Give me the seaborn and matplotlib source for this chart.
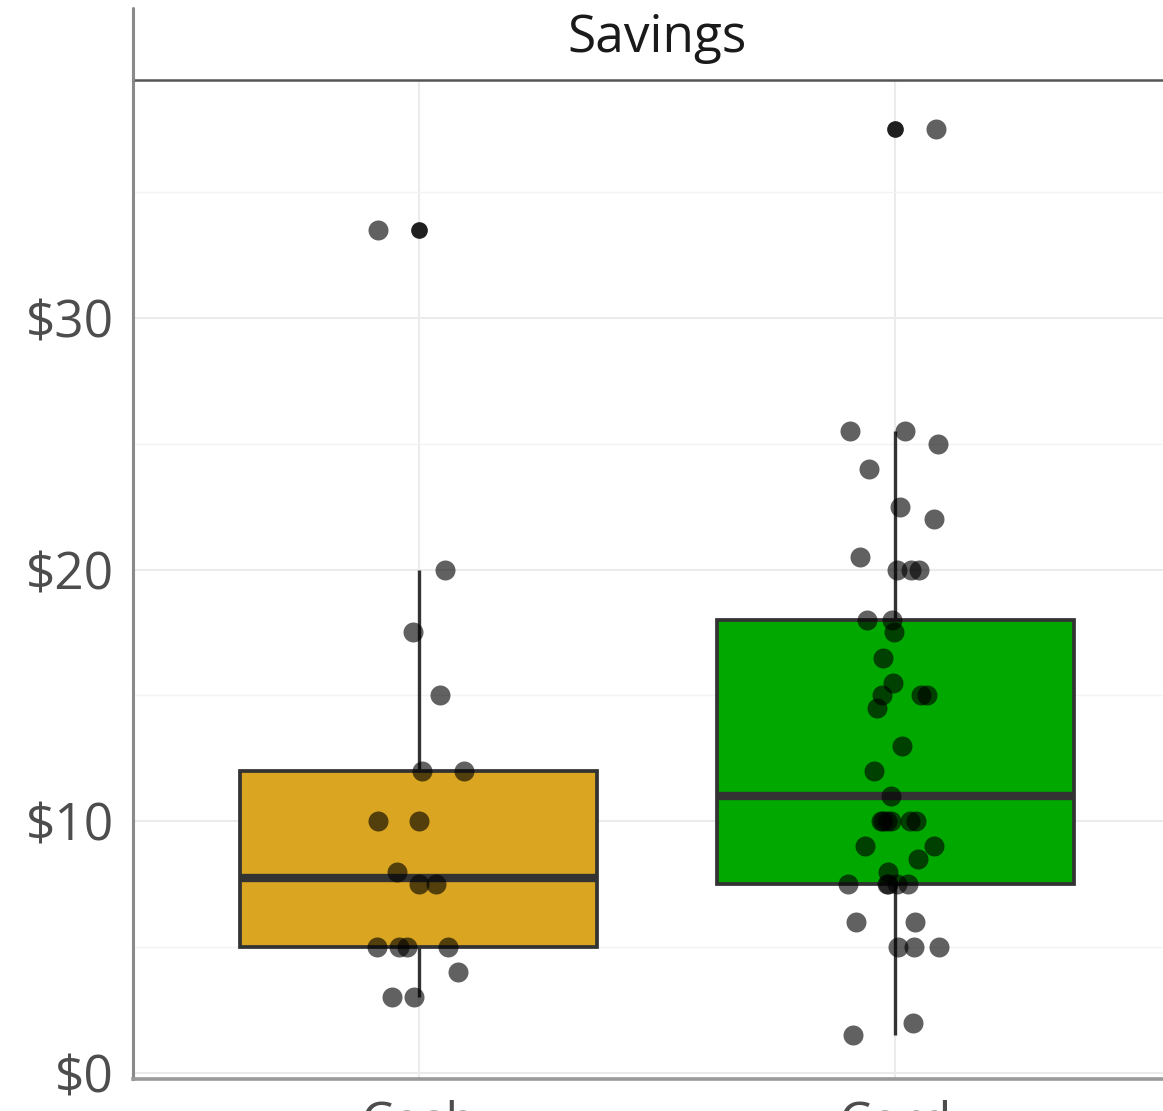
import numpy as np
import pandas as pd
import matplotlib
matplotlib.use("Agg")
import matplotlib.pyplot as plt
from matplotlib.ticker import MultipleLocator, FixedLocator, FuncFormatter
from matplotlib.lines import Line2D
import seaborn as sns

# Savings per purchase, by payment group
groups = ["Cash", "Card"]
cash_savings = [33.5, 20, 17.5, 15, 12, 12, 10, 10, 8, 7.5, 7.5,
                5, 5, 5, 5, 4, 3, 3]
card_savings = [37.5, 25.5, 25.5, 25, 24, 22.5, 22, 20.5, 20, 20, 20,
                18, 18, 17.5, 16.5, 15.5, 15, 15, 15, 14.5, 13, 12, 11,
                10, 10, 10, 10, 10, 10, 9, 9, 8.5, 8, 7.5, 7.5, 7.5, 7.5,
                7.5, 6, 6, 5, 5, 5, 2, 1.5]
box_colors = ["#DAA520", "#00A800"]
y_ticks = [0, 10, 20, 30]
panel_title = "Savings"

df = pd.DataFrame({
    "group": [groups[0]] * len(cash_savings) + [groups[1]] * len(card_savings),
    "savings": cash_savings + card_savings,
})

sns.set_theme(style="white")
plt.rcParams["font.family"] = ["Open Sans", "DejaVu Sans"]

W, H = 1163, 1111
fig = plt.figure(figsize=(W / 100, H / 100), dpi=100)
left_px, right_px, top_px, bottom_px = 133, 1181, 80, 1079
ax = fig.add_axes([left_px / W, 1 - bottom_px / H,
                   (right_px - left_px) / W, (bottom_px - top_px) / H])

sns.boxplot(data=df, x="group", y="savings", hue="group", order=groups,
            hue_order=groups, palette=box_colors, saturation=1, width=0.75,
            linecolor="#333333", linewidth=2.7, fliersize=11,
            flierprops=dict(marker="o", markerfacecolor="#1f1f1f",
                            markeredgecolor="#1f1f1f"),
            whiskerprops=dict(linewidth=2.4),
            medianprops=dict(linewidth=6, color="#333333"),
            capprops=dict(visible=False), legend=False, ax=ax)

np.random.seed(7)
sns.stripplot(data=df, x="group", y="savings", order=groups, color="black",
              alpha=0.62, size=14.4, jitter=0.1, linewidth=0, zorder=4, ax=ax)

ax.set_xlim(-0.6, 1.6)
ax.set_ylim(-0.24, 39.45)
ax.set_xlabel("")
ax.set_ylabel("")

# grid
ax.set_axisbelow(True)
ax.yaxis.set_major_locator(FixedLocator(y_ticks))
ax.yaxis.set_minor_locator(MultipleLocator(5))
ax.yaxis.set_major_formatter(FuncFormatter(lambda v, _: f"${v:.0f}"))
ax.grid(axis="y", which="major", color="#ebebeb", linewidth=1.5)
ax.grid(axis="y", which="minor", color="#f3f3f3", linewidth=1.0)
ax.grid(axis="x", which="major", color="#ebebeb", linewidth=1.5)

ax.tick_params(axis="both", which="major", length=6.5, width=1.6,
               color="#555555", labelsize=37, labelcolor="#4d4d4d", pad=7)
ax.tick_params(axis="y", which="minor", length=0)
ax.tick_params(axis="x", pad=8)

ax.spines["right"].set_visible(False)
ax.spines["left"].set_color("#8a8a8a")
ax.spines["left"].set_linewidth(2.2)
ax.spines["bottom"].set_color("#9a9a9a")
ax.spines["bottom"].set_linewidth(2.6)
ax.spines["top"].set_color("#555555")
ax.spines["top"].set_linewidth(1.8)

# facet strip: left border above the panel and label
x0 = left_px / W
fig.add_artist(Line2D([x0, x0], [1 - top_px / H, 1 - 8 / H],
                      transform=fig.transFigure, color="#8a8a8a",
                      linewidth=2.2))
ax.text(0.5, 1 + 42 / (bottom_px - top_px), panel_title,
        transform=ax.transAxes, ha="center", va="center",
        fontsize=37, color="#1a1a1a")

fig.savefig("out.png", dpi=100)
